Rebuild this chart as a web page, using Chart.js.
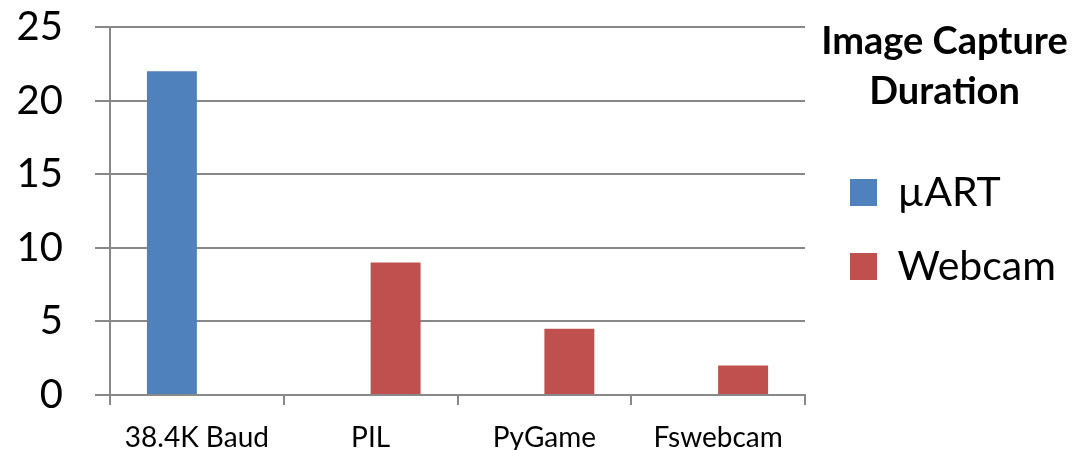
<!DOCTYPE html>
<html>
<head>
<meta charset="utf-8">
<script src="https://cdn.jsdelivr.net/npm/chart.js@4.4.1/dist/chart.umd.min.js"></script>
<style>
  html, body { margin: 0; padding: 0; background: #ffffff; }
  #wrap { width: 1084px; height: 450px; }
</style>
</head>
<body>
<div id="wrap"><canvas id="c" width="1084" height="450"></canvas></div>
<script>
// ---- data ----
const categories = ['38.4K Baud', 'PIL', 'PyGame', 'Fswebcam'];
const uartValues = [22, null, null, null];
const webcamValues = [null, 9, 4.5, 2];
const seriesNames = ['\u00B5ART', 'Webcam'];
const legendTitleLines = ['Image Capture', 'Duration'];
const yTicks = [0, 5, 10, 15, 20, 25];

const FONT = "Lato, 'Open Sans', 'DejaVu Sans', sans-serif";
const GRID = '#888888';

const legendTweak = {
  id: 'legendTweak',
  beforeLayout(chart) {
    const lg = chart.legend;
    if (lg && !lg._wrappedFit) {
      const f = lg.fit;
      lg.fit = function () { f.call(this); this.width = 279; };
      lg._wrappedFit = true;
    }
  },
  afterLayout(chart) {
    const lg = chart.legend;
    if (lg) { lg.left = chart.chartArea.right + 12; lg.width = 255; lg.right = lg.left + lg.width; }
  }
};

new Chart(document.getElementById('c'), {
  type: 'bar',
  data: {
    labels: categories,
    datasets: [
      { label: seriesNames[0], data: uartValues, backgroundColor: '#4F81BD', borderWidth: 0 },
      { label: seriesNames[1], data: webcamValues, backgroundColor: '#C0504D', borderWidth: 0 }
    ]
  },
  options: {
    responsive: false,
    animation: false,
    layout: { padding: { top: 2, left: 0, right: 0, bottom: 0 } },
    datasets: { bar: { categoryPercentage: 0.575, barPercentage: 1.0 } },
    scales: {
      x: {
        grid: { drawOnChartArea: false, drawTicks: true, tickLength: 10, color: GRID, lineWidth: 2 },
        border: { display: true, color: GRID, width: 2 },
        ticks: { color: '#000', font: { family: FONT, size: 28 }, padding: 16, maxRotation: 0 },
        afterFit(s) { s.height = 55; }
      },
      y: {
        min: 0, max: 25,
        afterBuildTicks(s) { s.ticks = yTicks.map(v => ({ value: v })); },
        grid: { color: GRID, lineWidth: 2, drawTicks: true, tickLength: 15 },
        border: { display: true, color: GRID, width: 2 },
        ticks: { color: '#000', font: { family: FONT, size: 40 }, padding: 32 },
        afterFit(s) { s.width = 110; s.paddingTop = 27; s.paddingBottom = 0; }
      }
    },
    plugins: {
      tooltip: { enabled: false },
      legend: {
        position: 'right',
        align: 'start',
        title: {
          display: true,
          text: legendTitleLines,
          color: '#000',
          font: { family: FONT, size: 38, weight: 'bold', lineHeight: 50 / 38 },
          padding: { top: 21, bottom: 66 }
        },
        labels: {
          color: '#000',
          font: { family: FONT, size: 41 },
          boxWidth: 27,
          boxHeight: 27,
          padding: 33
        }
      }
    }
  },
  plugins: [legendTweak]
});
</script>
</body>
</html>
